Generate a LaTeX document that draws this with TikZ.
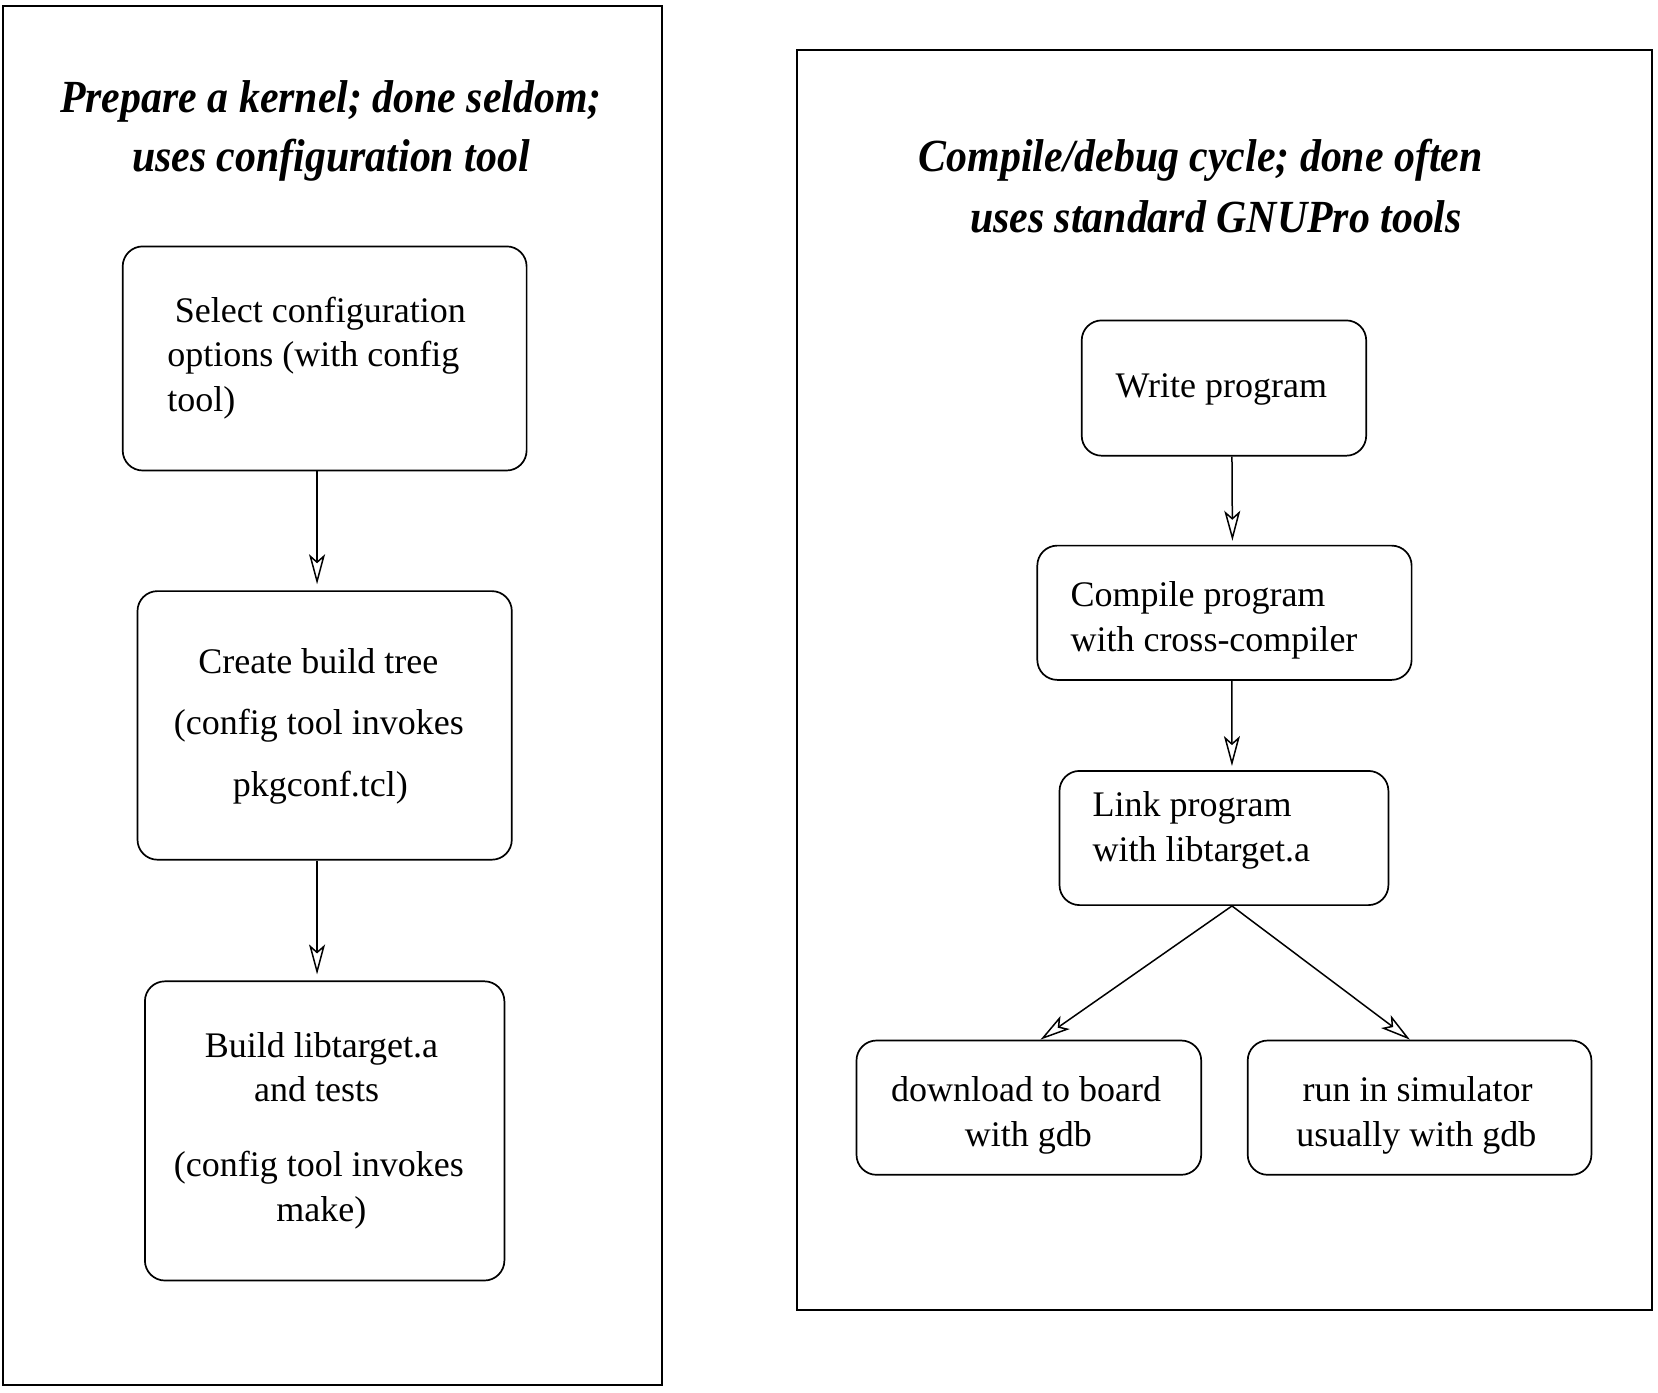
\documentclass[tikz,border=0pt]{standalone}
\usepackage{fontspec}
\setmainfont{Liberation Serif}
\newfontfamily\titlefont[FakeStretch=0.91]{Liberation Serif}
\usetikzlibrary{arrows.meta}
\begin{document}
\begin{tikzpicture}[x=0.5pt,y=-0.5pt,
 frame/.style={draw,line width=0.85pt},
 stepbox/.style={draw,line width=0.85pt,rounded corners=10pt,inner sep=0pt},
 txt/.style={inner sep=0pt,font=\fontsize{18}{22}\selectfont,yshift=-1pt},
 ttl/.style={inner sep=0pt,font=\titlefont\bfseries\itshape\fontsize{23}{29.5}\selectfont,anchor=base,yshift=-0.8pt},
 arr/.style={line width=0.75pt,-{Stealth[open,length=15pt,width=8pt,inset=3.5pt]}}]
\useasboundingbox (0,0) rectangle (1658,1392);
% frames
\draw[frame] (3.2,6.3) rectangle (662,1385);
\draw[frame] (797.3,49.7) rectangle (1651.7,1310.1);
% titles
\node[ttl] (t1a) at (331,111) {Prepare a kernel; done seldom;};
\node[ttl] (t1b) at (331,170) {uses configuration tool};
\node[ttl] (t2a) at (1200.7,170) {Compile/debug cycle; done often};
\node[ttl] (t2b) at (1216,230.5) {uses standard GNUPro tools};
% left boxes
\node[stepbox,minimum width=201.95pt,minimum height=112.05pt] (b1) at (324.65,358.45) {};
\node[stepbox,minimum width=187.15pt,minimum height=134.3pt] (b2) at (324.65,725.4) {};
\node[stepbox,minimum width=179.75pt,minimum height=149.6pt] (b3) at (324.65,1130.9) {};
% right boxes
\node[stepbox,minimum width=142.25pt,minimum height=67.65pt] (w) at (1223.95,388.05) {};
\node[stepbox,minimum width=187.15pt,minimum height=67.15pt] (c) at (1224.45,612.75) {};
\node[stepbox,minimum width=164.45pt,minimum height=67.1pt] (l) at (1223.95,838) {};
\node[stepbox,minimum width=172.35pt,minimum height=67.15pt] (dl) at (1028.85,1107.65) {};
\node[stepbox,minimum width=171.85pt,minimum height=67.15pt] (rs) at (1419.55,1107.65) {};
% texts left
\node[txt,anchor=base west] (b1a) at (174.5,320.4) {Select configuration};
\node[txt,anchor=base west] (b1b) at (167,364.8) {options (with config};
\node[txt,anchor=base west] (b1c) at (167,409.2) {tool)};
\node[txt,anchor=base] (b2a) at (318.3,671.4) {Create build tree};
\node[txt,anchor=base] (b2b) at (318.8,732.8) {(config tool invokes};
\node[txt,anchor=base] (b2c) at (320.4,794.1) {pkgconf.tcl)};
\node[txt,anchor=base] (b3a) at (321.4,1055.3) {Build libtarget.a};
\node[txt,anchor=base] (b3b) at (316.7,1099.7) {and tests};
\node[txt,anchor=base] (b3c) at (318.8,1174.8) {(config tool invokes};
\node[txt,anchor=base] (b3d) at (321.4,1219.2) {make)};
% texts right
\node[txt,anchor=base] (wa) at (1221.3,395.5) {Write program};
\node[txt,anchor=base west] (ca) at (1070.1,604.8) {Compile program};
\node[txt,anchor=base west] (cb) at (1070.1,649.2) {with cross-compiler};
\node[txt,anchor=base west] (la) at (1092.3,814.2) {Link program};
\node[txt,anchor=base west] (lb) at (1092.3,859.7) {with libtarget.a};
\node[txt,anchor=base] (dla) at (1026.2,1099.7) {download to board};
\node[txt,anchor=base] (dlb) at (1028.3,1144.1) {with gdb};
\node[txt,anchor=base] (rsa) at (1417.5,1099.7) {run in simulator};
\node[txt,anchor=base] (rsb) at (1416.4,1144.1) {usually with gdb};
% connectors
\draw[arr,shorten >=3pt] ([xshift=-3.8pt]b1.south) -- ([xshift=-3.8pt]b2.north);
\draw[arr,shorten >=3pt] ([xshift=-3.8pt]b2.south) -- ([xshift=-3.8pt]b3.north);
\draw[arr,shorten >=2pt] ([xshift=4pt]w.south) -- ([xshift=4pt]c.north);
\draw[arr,shorten >=2pt] ([xshift=3.7pt]c.south) -- ([xshift=4pt]l.north);
\draw[arr] ([xshift=4pt]l.south) -- ([xshift=5.8pt]dl.north);
\draw[arr] ([xshift=4pt]l.south) -- ([xshift=-4.8pt]rs.north);
\end{tikzpicture}
\end{document}
